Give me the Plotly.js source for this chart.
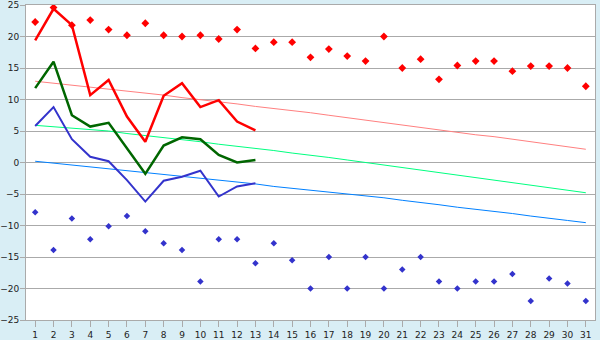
<!DOCTYPE html>
<html>
<head>
<meta charset="utf-8">
<script src="https://cdn.plot.ly/plotly-3.0.1.min.js"></script>
<style>
html,body{margin:0;padding:0;background:#d9eef5;}
#chart{width:600px;height:340px;}
</style>
</head>
<body>
<div id="chart"></div>
<script>
const days = [1,2,3,4,5,6,7,8,9,10,11,12,13,14,15,16,17,18,19,20,21,22,23,24,25,26,27,28,29,30,31];
const dayLabels = days.map(String);

// Observed daily values (days 1-13)
const obsDays = [1,2,3,4,5,6,7,8,9,10,11,12,13];
const dailyMax  = [19.4,24.4,21.8,10.7,13.1,7.3,3.3,10.6,12.6,8.8,9.9,6.5,5.1];
const dailyMean = [11.8,16.0,7.5,5.7,6.3,2.3,-1.8,2.7,4.0,3.7,1.2,0.0,0.4];
const dailyMin  = [5.8,8.8,3.7,0.9,0.2,-2.8,-6.2,-2.9,-2.25,-1.3,-5.4,-3.8,-3.3];

// Normals
const normalMax  = [12.9,12.6,12.3,12.0,11.6,11.3,11.0,10.7,10.3,10.0,9.6,9.3,8.9,8.6,8.2,7.9,7.5,7.1,6.7,6.4,6.0,5.6,5.2,4.8,4.4,4.1,3.7,3.3,2.9,2.5,2.1];
const normalMean = [5.9,5.7,5.4,5.2,5.0,4.6,4.3,3.9,3.6,3.3,2.9,2.6,2.2,1.9,1.5,1.2,0.8,0.4,0.0,-0.4,-0.8,-1.2,-1.6,-2.0,-2.4,-2.8,-3.2,-3.6,-4.0,-4.4,-4.8];
const normalMin  = [0.2,-0.1,-0.4,-0.7,-1.0,-1.3,-1.6,-1.8,-2.1,-2.4,-2.7,-3.1,-3.4,-3.8,-4.1,-4.35,-4.65,-4.95,-5.25,-5.6,-6.0,-6.3,-6.7,-7.1,-7.4,-7.8,-8.1,-8.5,-8.8,-9.2,-9.55];

// Records
const recordMax = [22.3,24.6,21.8,22.6,21.1,20.2,22.1,20.2,20.0,20.2,19.6,21.1,18.1,19.1,19.1,16.7,18.0,16.9,16.1,20.0,15.0,16.4,13.2,15.4,16.1,16.1,14.5,15.3,15.3,15.0,12.1];
const recordMin = [-7.9,-13.9,-8.9,-12.2,-10.1,-8.5,-10.9,-12.8,-13.9,-18.9,-12.2,-12.2,-16.0,-12.8,-15.5,-20.0,-15.0,-20.0,-15.0,-20.0,-17.0,-15.0,-18.9,-20.0,-18.9,-18.9,-17.7,-22.0,-18.4,-19.2,-22.0];

const yTicks = [-25,-20,-15,-10,-5,0,5,10,15,20,25];

const traces = [
  {x: days, y: normalMax,  type:'scatter', mode:'lines', line:{color:'#ff8080', width:1}},
  {x: days, y: normalMean, type:'scatter', mode:'lines', line:{color:'#00ff80', width:1}},
  {x: days, y: normalMin,  type:'scatter', mode:'lines', line:{color:'#0080ff', width:1}},
  {x: days, y: recordMax, type:'scatter', mode:'markers', marker:{symbol:'diamond', size:6, color:'#ff0000'}},
  {x: days, y: recordMin, type:'scatter', mode:'markers', marker:{symbol:'diamond', size:5, color:'#3333cc'}},
  {x: obsDays, y: dailyMin,  type:'scatter', mode:'lines', line:{color:'#3333cc', width:2}},
  {x: obsDays, y: dailyMean, type:'scatter', mode:'lines', line:{color:'#006600', width:2.5}},
  {x: obsDays, y: dailyMax,  type:'scatter', mode:'lines', line:{color:'#ff0000', width:2.5}}
];

const layout = {
  width: 600, height: 340,
  margin: {l:26, r:5, t:5, b:20, pad:0},
  paper_bgcolor: '#d9eef5',
  plot_bgcolor: '#ffffff',
  showlegend: false,
  hovermode: false,
  font: {family: 'DejaVu Sans', size: 9, color: '#222'},
  xaxis: {
    range: [0.5, 31.5], tickmode:'array', tickvals: days, ticktext: dayLabels,
    showgrid: false, zeroline: false,
    showline: true, mirror: true, linecolor: '#aaaaaa', linewidth: 1,
    ticks: 'outside', ticklen: 6, tickcolor: '#aaaaaa', tickwidth: 1,
    tickfont: {family:'DejaVu Sans', size:9, color:'#222'}, fixedrange: true
  },
  yaxis: {
    range: [-25, 25], tickmode:'array', tickvals: yTicks,
    showgrid: true, gridcolor: '#aaaaaa', gridwidth: 1, zeroline: false,
    showline: true, mirror: true, linecolor: '#aaaaaa', linewidth: 1,
    ticks: 'outside', ticklen: 5, tickcolor: '#aaaaaa', tickwidth: 1,
    ticklabeloverflow: 'allow', ticklabelstandoff: -1,
    tickfont: {family:'DejaVu Sans', size:9, color:'#222'}, fixedrange: true
  }
};

Plotly.newPlot('chart', traces, layout, {displayModeBar:false, staticPlot:true});
</script>
</body>
</html>
